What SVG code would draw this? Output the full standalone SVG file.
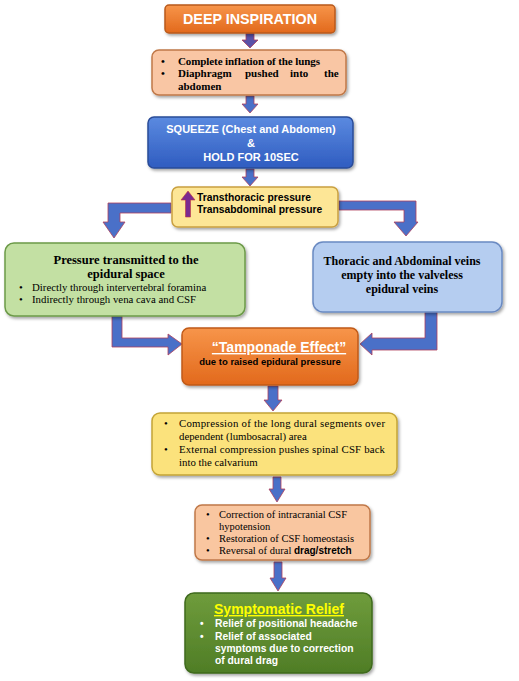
<svg xmlns="http://www.w3.org/2000/svg" width="519" height="681" viewBox="0 0 519 681">
<defs>
<filter id="sh" x="-10%" y="-10%" width="125%" height="130%">
<feDropShadow dx="1.5" dy="2" stdDeviation="1.5" flood-color="#000" flood-opacity="0.35"/>
</filter>
<linearGradient id="gOr" x1="0" y1="0" x2="0" y2="1"><stop offset="0" stop-color="#f7954a"/><stop offset="1" stop-color="#e2691c"/></linearGradient>
<linearGradient id="gBl" x1="0" y1="0" x2="0" y2="1"><stop offset="0" stop-color="#5b8ae0"/><stop offset="1" stop-color="#2f5cc0"/></linearGradient>
<linearGradient id="gGr" x1="0" y1="0" x2="0" y2="1"><stop offset="0" stop-color="#6f9c3c"/><stop offset="1" stop-color="#4f7d26"/></linearGradient>
</defs>
<style>
.box{filter:url(#sh);stroke-width:1.5}
.arr{fill:#4a70c8;stroke:#b0405a;stroke-width:0.8}
.arrp{fill:#5a52a8;stroke:#b0405a;stroke-width:0.8}
.ar{font-family:"Liberation Sans",Arial,sans-serif;font-weight:bold}
.tm{font-family:"Liberation Serif","Times New Roman",serif}
.tb{font-family:"Liberation Serif","Times New Roman",serif;font-weight:bold}
</style>

<g id="connectors">
<polygon class="arrp" points="246,33 254,33 254,40 258,40 250,48 242,40 246,40"/>
<polygon class="arr" points="246,96 254,96 254,104 258,104 250,113 242,104 246,104"/>
<polygon class="arr" points="246,169 254,169 254,177 258,177 250,186 242,177 246,177"/>
<polygon class="arr" points="171,203 171,213 120,213 120,222 125,222 114,238 103,222 108,222 108,203"/>
<polygon class="arr" points="339,201 416,201 416,222 418,222 406,236 394,222 404,222 404,210 339,210"/>
<polygon class="arr" points="112,316 122,316 122,338 168,338 168,334 182,344 168,355 168,347 112,347"/>
<polygon class="arr" points="425,312 437,312 437,350 372,350 372,355 360,344 372,333 372,338 425,338"/>
<polygon class="arr" points="268,386 278,386 278,400 282,400 273,411 264,400 268,400"/>
<polygon class="arr" points="273,477 281,477 281,489 285,489 277,502 269,489 273,489"/>
<polygon class="arr" points="274,562 282,562 282,578 286,578 278,591 270,578 274,578"/>
</g>

<g id="n1">
<rect class="box" x="165" y="5" width="170" height="28" rx="4" fill="url(#gOr)" stroke="#b95a1c"/>
<text class="ar" x="250" y="24" font-size="14" fill="#fff" text-anchor="middle" textLength="134" lengthAdjust="spacingAndGlyphs">DEEP INSPIRATION</text>
</g>

<g id="n2">
<rect class="box" x="152" y="50" width="194" height="45" rx="7" fill="#f9c6a4" stroke="#c07848"/>
<g class="tb" font-size="11" fill="#000">
<text x="161" y="64.5">•</text><text x="178" y="64.5" textLength="142" lengthAdjust="spacing">Complete inflation of the lungs</text>
<text x="161" y="77">•</text><text x="178" y="77">Diaphragm</text><text x="245" y="77">pushed</text><text x="290" y="77">into</text><text x="324" y="77">the</text>
<text x="178" y="89.5">abdomen</text>
</g>
</g>

<g id="n3">
<rect class="box" x="148" y="117" width="205" height="51" rx="6" fill="url(#gBl)" stroke="#2a4c98"/>
<g class="ar" font-size="11" fill="#fff" text-anchor="middle">
<text x="251" y="133">SQUEEZE (Chest and Abdomen)</text>
<text x="251" y="147">&amp;</text>
<text x="251" y="161">HOLD FOR 10SEC</text>
</g>
</g>

<g id="n4">
<rect class="box" x="172" y="187" width="166" height="40" rx="6" fill="#fde696" stroke="#c9a040"/>
<polygon points="185.5,217 190.5,217 190.5,200 195,200 188,191 181,200 185.5,200" fill="#7a2a90" stroke="#c03040" stroke-width="0.6"/>
<g class="ar" font-size="10.3" fill="#000">
<text x="197" y="201">Transthoracic pressure</text>
<text x="197" y="213">Transabdominal pressure</text>
</g>
</g>

<g id="n5">
<rect class="box" x="5" y="243" width="240" height="73" rx="9" fill="#c3e0a3" stroke="#6c9a48"/>
<g class="tb" font-size="12.5" fill="#000" text-anchor="middle">
<text x="126" y="264">Pressure transmitted to the</text>
<text x="126" y="278">epidural space</text>
</g>
<g class="tm" font-size="10.8" fill="#000">
<text x="19" y="291">•</text><text x="32" y="291">Directly through intervertebral foramina</text>
<text x="19" y="303">•</text><text x="32" y="303">Indirectly through vena cava and CSF</text>
</g>
</g>

<g id="n6">
<rect class="box" x="313" y="242" width="189" height="70" rx="10" fill="#b5cdf0" stroke="#6a8ac2"/>
<g class="tb" font-size="12" fill="#000" text-anchor="middle">
<text x="402" y="265">Thoracic and Abdominal veins</text>
<text x="402" y="279">empty into the valveless</text>
<text x="402" y="293">epidural veins</text>
</g>
</g>

<g id="n7">
<rect class="box" x="182" y="328" width="176" height="57" rx="7" fill="url(#gOr)" stroke="#c05a18"/>
<text class="ar" x="279" y="352" font-size="14" fill="#fff" text-anchor="middle" text-decoration="underline">“Tamponade Effect”</text>
<text class="ar" x="270" y="365" font-size="9.5" fill="#000" text-anchor="middle">due to raised epidural pressure</text>
</g>

<g id="n8">
<rect class="box" x="152" y="413" width="245" height="62" rx="8" fill="#fbe27c" stroke="#c4a436"/>
<g class="tm" font-size="10.8" fill="#000">
<text x="164" y="427">•</text><text x="179" y="427" textLength="206" lengthAdjust="spacing">Compression of the long dural segments over</text>
<text x="179" y="440">dependent (lumbosacral) area</text>
<text x="164" y="453">•</text><text x="179" y="453" textLength="206" lengthAdjust="spacing">External compression pushes spinal CSF back</text>
<text x="179" y="465.5">into the calvarium</text>
</g>
</g>

<g id="n9">
<rect class="box" x="195" y="505" width="175" height="55" rx="7" fill="#f9c6a0" stroke="#c07848"/>
<g class="tm" font-size="10.5" fill="#000">
<text x="206" y="518">•</text><text x="219" y="518">Correction of intracranial CSF</text>
<text x="219" y="530">hypotension</text>
<text x="206" y="542">•</text><text x="219" y="542">Restoration of CSF homeostasis</text>
<text x="206" y="554">•</text><text x="219" y="554">Reversal of dural <tspan class="ar" font-size="10">drag/stretch</tspan></text>
</g>
</g>

<g id="n10">
<rect class="box" x="185" y="593" width="187" height="80" rx="9" fill="url(#gGr)" stroke="#3f6a1e"/>
<text class="ar" x="279" y="614" font-size="14" fill="#ffff00" text-anchor="middle" text-decoration="underline">Symptomatic Relief</text>
<g class="ar" font-size="10.3" fill="#fff">
<text x="200" y="627">•</text><text x="215" y="627">Relief of positional headache</text>
<text x="200" y="640">•</text><text x="215" y="640">Relief of associated</text>
<text x="215" y="652">symptoms due to correction</text>
<text x="215" y="664">of dural drag</text>
</g>
</g>
</svg>
